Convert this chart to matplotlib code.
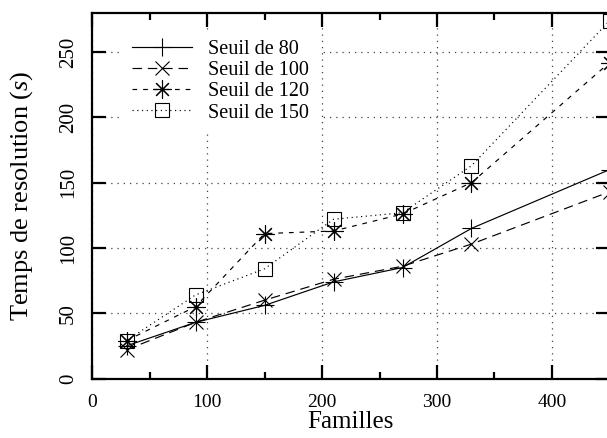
"""
Temps de resolution par famille, pour quatre seuils (style gnuplot)
"""

import matplotlib
matplotlib.use('Agg')
import matplotlib.pyplot as plt
from matplotlib.ticker import MultipleLocator

# Donnees
familles = [30, 90, 150, 210, 270, 330, 450]
seuil_80 = [25, 43, 56, 74, 85, 115, 160]
seuil_100 = [22, 43, 60, 76, 86, 103, 143]
seuil_120 = [29, 55, 111, 113, 126, 150, 242]
seuil_150 = [29, 64, 84, 122, 127, 163, 274]

labels = ['Seuil de 80', 'Seuil de 100', 'Seuil de 120', 'Seuil de 150']
x_ticks = [0, 100, 200, 300, 400]
y_ticks = [0, 50, 100, 150, 200, 250]

plt.rcParams['font.family'] = ['Liberation Serif', 'DejaVu Serif']
plt.rcParams['mathtext.fontset'] = 'custom'
plt.rcParams['mathtext.rm'] = 'Liberation Serif'
plt.rcParams['mathtext.it'] = 'Liberation Serif:italic'

W, H = 607, 438
fig = plt.figure(figsize=(W / 100, H / 100), dpi=100)
# axes: left spine at x=92px, bottom at y=378.5px, top at y=13px, x=450 just off the right edge
ax = fig.add_axes([92 / W, (H - 378.5) / H, (609.5 - 92) / W, (378.5 - 13) / H])

styles = [
    dict(ls='-', marker='+', ms=13, mew=0.8),
    dict(ls=(0, (8, 5)), marker='x', ms=10, mew=0.8),
    dict(ls=(0, (4, 5)), marker=(8, 2, 0), ms=13, mew=0.8),
    dict(ls=(0, (1, 3)), marker='s', ms=10, mew=0.8, mfc='none'),
]
series = [seuil_80, seuil_100, seuil_120, seuil_150]
for vals, lab, st in zip(series, labels, styles):
    ax.plot(familles, vals, color='black', lw=0.85, label=lab, clip_on=False, **st)

ax.set_xlim(0, 450)
ax.set_ylim(0, 280)
ax.set_xticks(x_ticks)
ax.set_yticks(y_ticks)
ax.xaxis.set_minor_locator(MultipleLocator(50))

ax.grid(True, which='major', color='#444444', lw=0.9, ls=(0, (1, 4)))
ax.set_axisbelow(True)

for s in ax.spines.values():
    s.set_linewidth(1.6)
ax.tick_params(which='both', direction='in', top=True, right=True, width=1.6)
ax.tick_params(which='major', length=10)
ax.tick_params(which='minor', length=5)
ax.tick_params(axis='x', labelsize=14, pad=11)
ax.tick_params(axis='y', labelsize=15, pad=10)
plt.setp(ax.get_yticklabels(), rotation=90, va='center')

ax.set_xlabel('Familles', fontsize=18, labelpad=0)
ax.set_ylabel('Temps de resolution ($s$)', fontsize=19, labelpad=17)

leg = ax.legend(loc='upper left', bbox_to_anchor=(122 / W, 1 - 30 / H),
                bbox_transform=fig.transFigure, fontsize=14.5, numpoints=1,
                handlelength=3.0, handletextpad=0.75, labelspacing=0.1,
                borderpad=0.5, borderaxespad=0, frameon=True, fancybox=False)
leg.get_frame().set_facecolor('white')
leg.get_frame().set_edgecolor('none')
leg.get_frame().set_alpha(1.0)

fig.savefig('out.png', dpi=100)
plt.close(fig)
